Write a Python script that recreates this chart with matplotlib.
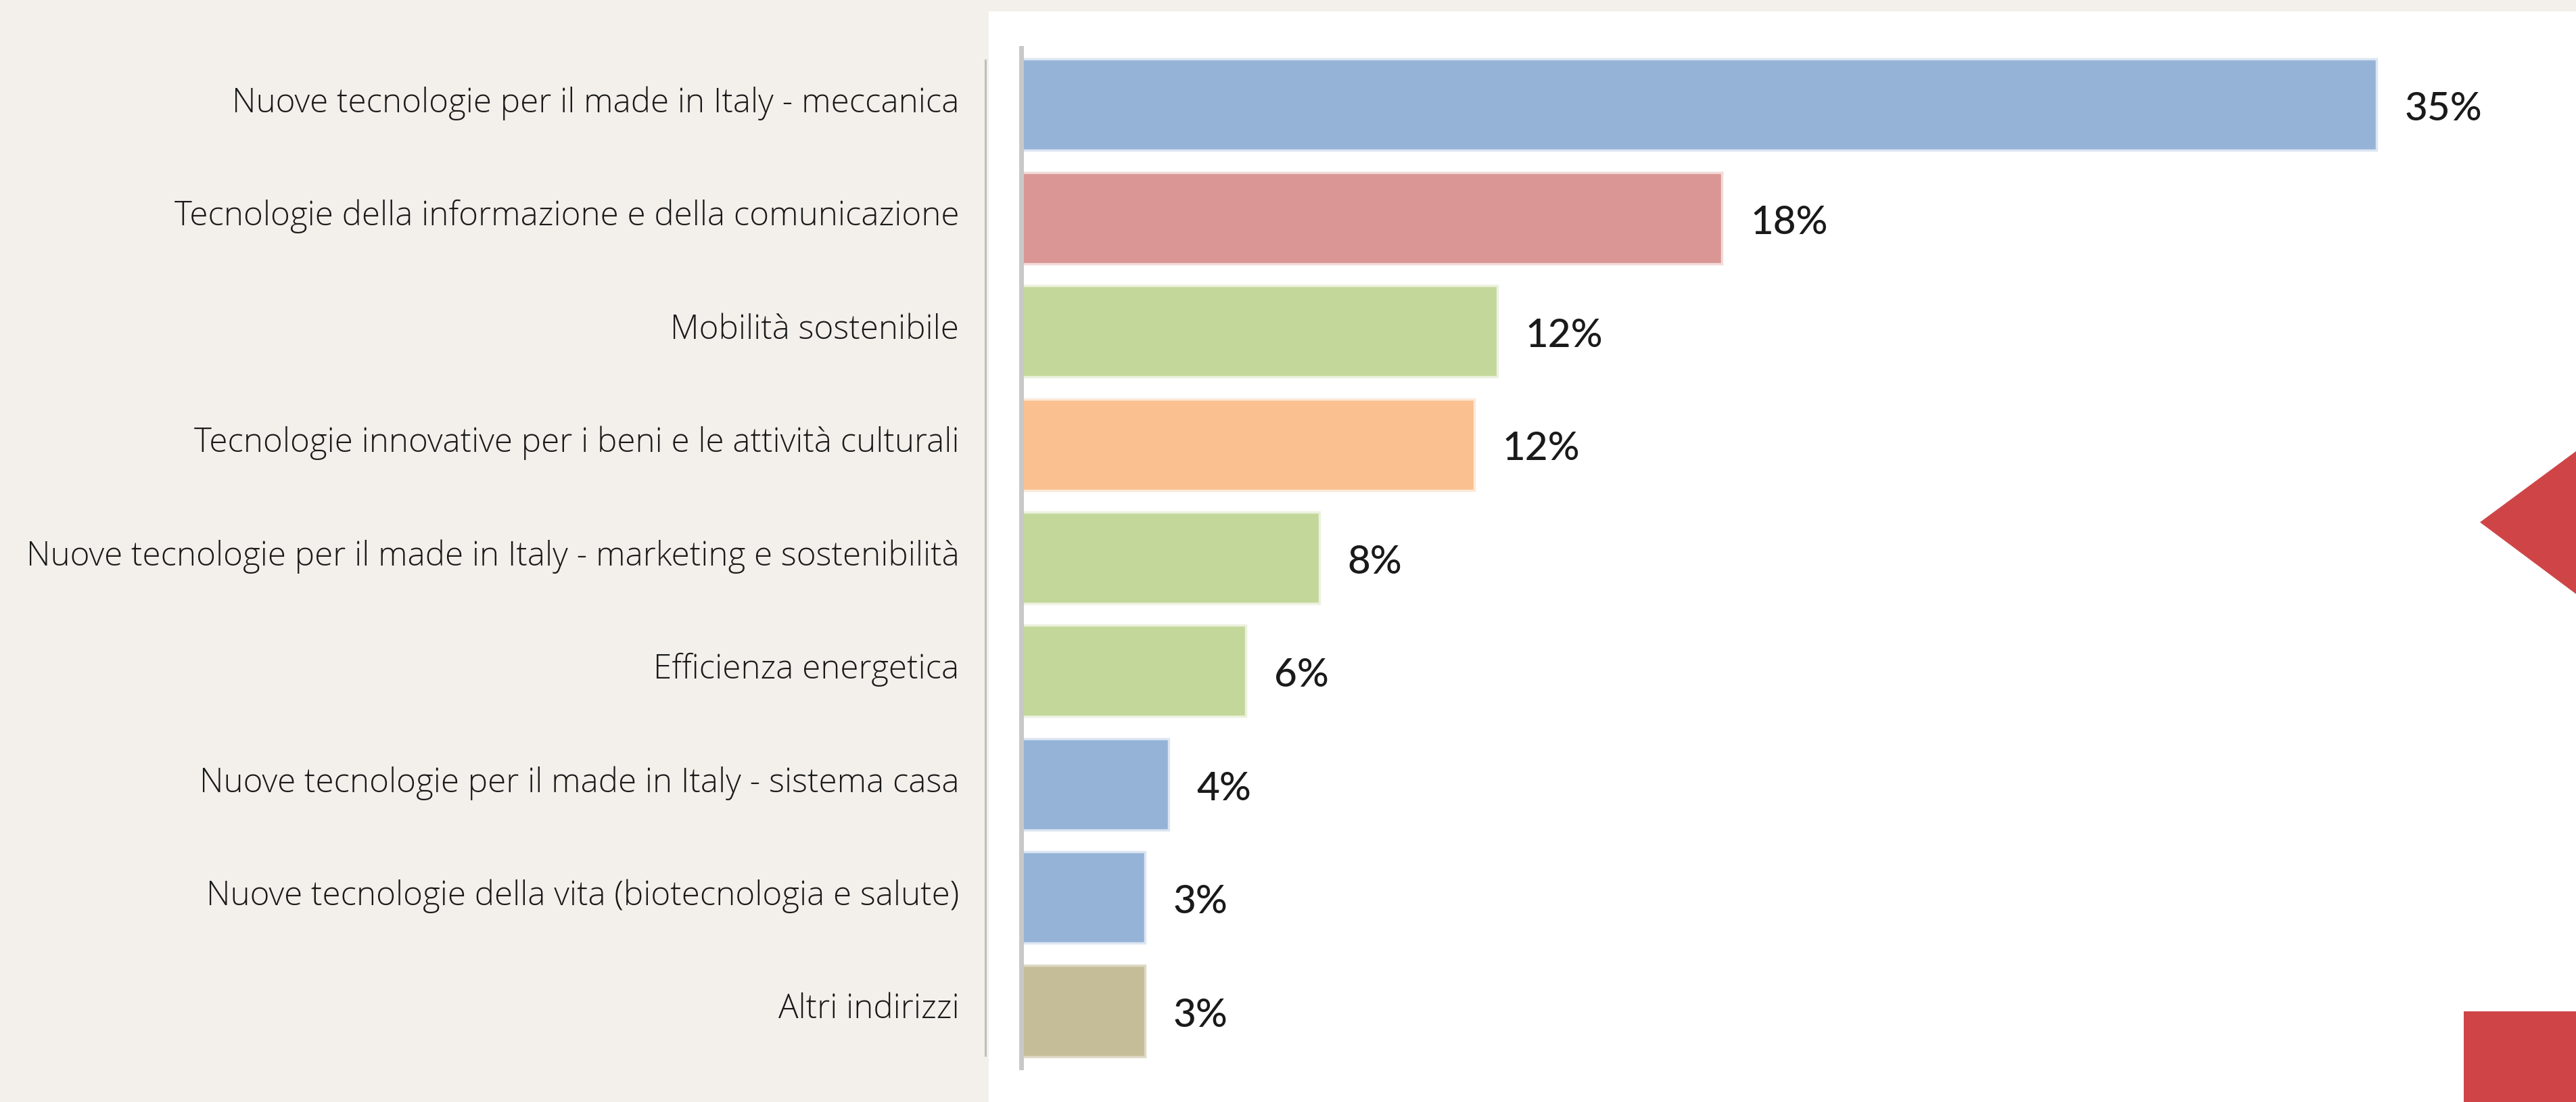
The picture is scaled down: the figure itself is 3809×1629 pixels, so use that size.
import matplotlib
matplotlib.use("Agg")
import matplotlib.pyplot as plt
import matplotlib.transforms as mtransforms
from matplotlib.patches import Rectangle, Polygon
from matplotlib.lines import Line2D

categories = [
    "Nuove tecnologie per il made in Italy - meccanica",
    "Tecnologie della informazione e della comunicazione",
    "Mobilità sostenibile",
    "Tecnologie innovative per i beni e le attività culturali",
    "Nuove tecnologie per il made in Italy - marketing e sostenibilità",
    "Efficienza energetica",
    "Nuove tecnologie per il made in Italy - sistema casa",
    "Nuove tecnologie della vita (biotecnologia e salute)",
    "Altri indirizzi",
]
values = [35.0, 18.1, 12.3, 11.7, 7.7, 5.8, 3.8, 3.2, 3.2]
value_labels = ["35%", "18%", "12%", "12%", "8%", "6%", "4%", "3%", "3%"]
bar_colors = ["#95B3D7", "#D99694", "#C4D79B", "#FAC090", "#C4D79B",
              "#C4D79B", "#95B3D7", "#95B3D7", "#C4BD97"]
edge_colors = ["#DCE6F2", "#F2DCDB", "#EBF1DE", "#FDE9D9", "#EBF1DE",
               "#EBF1DE", "#DCE6F2", "#DCE6F2", "#DDD9C4"]

W, H = 3809, 1629
fig = plt.figure(figsize=(W / 100, H / 100), dpi=100)
fig.patch.set_facecolor("#F3F0EB")

# white panel behind the chart
fig.patches.append(Rectangle((1462 / W, 0), 1 - 1462 / W, 1 - 17 / H,
                             transform=fig.transFigure, facecolor="white",
                             edgecolor="none", zorder=0))
# thin divider line in the beige area
fig.lines.append(Line2D([1457 / W, 1457 / W], [1 - 89 / H, 1 - 1560 / H],
                        transform=fig.transFigure, color="#C2BFBA", lw=2.2, zorder=1))

ax = fig.add_axes([1510 / W, 1 - 1578 / H, 1 - 1510 / W, 1507 / H])
ax.set_facecolor("none")
ax.set_zorder(2)

y = list(range(len(categories)))
ax.barh(y, values, height=0.806, color=bar_colors, edgecolor=edge_colors,
        linewidth=2.5, zorder=2)

for i, (v, lbl) in enumerate(zip(values, value_labels)):
    ax.annotate(lbl, (v, i), xytext=(30, -5), textcoords="offset points",
                va="center", ha="left", fontsize=42, family="Lato",
                fontweight="medium", color="#1A1A1A")

ax.set_xlim(0, 40.15)
ax.set_ylim(8.5, -0.5)
ax.set_yticks(y)
ax.set_yticklabels(categories, family="Open Sans", fontweight="light",
                   fontsize=35.5, color="#1A1A1A")
ax.tick_params(axis="y", length=0, pad=66)
# labels sit a little above the bar centres
shift = mtransforms.ScaledTranslation(0, 0.08, fig.dpi_scale_trans)
for t in ax.get_yticklabels():
    t.set_transform(t.get_transform() + shift)
ax.set_xticks([])
for s in ["top", "right", "bottom"]:
    ax.spines[s].set_visible(False)
ax.spines["left"].set_color("#C8C8C8")
ax.spines["left"].set_linewidth(5)

# red decorative shapes on the right edge
fig.patches.append(Polygon([(3667 / W, 1 - 772 / H), (1, 1 - 667 / H), (1, 1 - 878 / H)],
                           closed=True, transform=fig.transFigure,
                           facecolor="#CF4547", edgecolor="none", zorder=3))
fig.patches.append(Rectangle((3643 / W, 0), 1 - 3643 / W, 1 - 1495 / H,
                             transform=fig.transFigure, facecolor="#CF4547",
                             edgecolor="none", zorder=3))

fig.savefig("out.png", dpi=100, facecolor=fig.get_facecolor())
